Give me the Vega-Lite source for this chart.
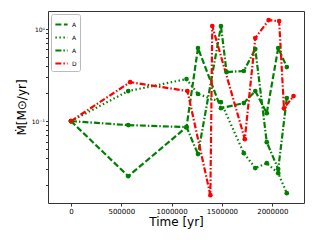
{
  "$schema": "https://vega.github.io/schema/vega-lite/v6.json",
  "autosize": {"type": "none"},
  "width": 256,
  "height": 192,
  "padding": {"left": 48, "top": 11, "right": 16, "bottom": 37},
  "config": {
    "view": {"stroke": "#333333", "strokeWidth": 1},
    "font": "DejaVu Sans",
    "axis": {"grid": false, "domain": false, "tickColor": "#333333", "labelColor": "#000000", "titleColor": "#000000", "labelFont": "DejaVu Sans", "titleFont": "DejaVu Sans"}
  },
  "data": {"values": [
    {"s": "A1", "t": 0, "v": 0.1},
    {"s": "A1", "t": 569000, "v": 0.0252},
    {"s": "A1", "t": 1148000, "v": 0.0861},
    {"s": "A1", "t": 1262000, "v": 0.622},
    {"s": "A1", "t": 1490000, "v": 0.138},
    {"s": "A1", "t": 1717000, "v": 0.157},
    {"s": "A1", "t": 1831000, "v": 0.212},
    {"s": "A1", "t": 1945000, "v": 0.122},
    {"s": "A1", "t": 2059000, "v": 0.622},
    {"s": "A1", "t": 2144000, "v": 0.386},
    {"s": "A2", "t": 0, "v": 0.1},
    {"s": "A2", "t": 569000, "v": 0.212},
    {"s": "A2", "t": 1148000, "v": 0.286},
    {"s": "A2", "t": 1262000, "v": 0.197},
    {"s": "A2", "t": 1490000, "v": 0.161},
    {"s": "A2", "t": 1717000, "v": 0.0449},
    {"s": "A2", "t": 1831000, "v": 0.0309},
    {"s": "A2", "t": 1945000, "v": 0.0349},
    {"s": "A2", "t": 2059000, "v": 0.0272},
    {"s": "A2", "t": 2144000, "v": 0.0165},
    {"s": "A3", "t": 0, "v": 0.1},
    {"s": "A3", "t": 569000, "v": 0.0905},
    {"s": "A3", "t": 1148000, "v": 0.0861},
    {"s": "A3", "t": 1262000, "v": 0.0438},
    {"s": "A3", "t": 1490000, "v": 1.078},
    {"s": "A3", "t": 1546000, "v": 0.341},
    {"s": "A3", "t": 1717000, "v": 0.35},
    {"s": "A3", "t": 1831000, "v": 0.606},
    {"s": "A3", "t": 1945000, "v": 0.0591},
    {"s": "A3", "t": 2059000, "v": 0.0301},
    {"s": "A3", "t": 2144000, "v": 0.178},
    {"s": "D", "t": 0, "v": 0.1},
    {"s": "D", "t": 588000, "v": 0.265},
    {"s": "D", "t": 1157000, "v": 0.212},
    {"s": "D", "t": 1385000, "v": 0.0157},
    {"s": "D", "t": 1404000, "v": 1.078},
    {"s": "D", "t": 1727000, "v": 0.0637},
    {"s": "D", "t": 1831000, "v": 0.798},
    {"s": "D", "t": 1964000, "v": 1.25},
    {"s": "D", "t": 2068000, "v": 1.22},
    {"s": "D", "t": 2116000, "v": 0.138},
    {"s": "D", "t": 2211000, "v": 0.187}
  ]},
  "mark": {"type": "line", "strokeWidth": 2.2, "point": {"size": 22, "filled": true}},
  "encoding": {
    "x": {"field": "t", "type": "quantitative", "scale": {"domain": [-228000, 2315000], "nice": false, "zero": false},
      "axis": {"title": "Time [yr]", "titleFontSize": 12, "titleFontWeight": "normal", "titlePadding": 2, "values": [0, 500000, 1000000, 1500000, 2000000], "format": "d", "labelFontSize": 7, "tickSize": 3, "labelPadding": 1}},
    "y": {"field": "v", "type": "quantitative", "scale": {"type": "log", "domain": [0.0129, 1.57], "nice": false},
      "axis": {"title": "Ṁ[M⊙/yr]", "titleFontSize": 12, "titleFontWeight": "normal", "titlePadding": 3,
        "values": [0.02, 0.03, 0.04, 0.05, 0.06, 0.07, 0.08, 0.09, 0.1, 0.2, 0.3, 0.4, 0.5, 0.6, 0.7, 0.8, 0.9, 1],
        "labelExpr": "datum.value == 1 ? '10⁰' : (abs(datum.value - 0.1) < 1e-9 ? '10⁻¹' : '')", "labelFontSize": 6, "tickSize": 2.5, "labelPadding": 1}},
    "color": {"field": "s", "type": "nominal", "scale": {"domain": ["A1", "A2", "A3", "D"], "range": ["#008000", "#008000", "#008000", "#ff0000"]},
      "legend": {"title": null, "orient": "top-left", "offset": 3, "labelExpr": "slice(datum.label, 0, 1)", "labelFontSize": 6, "symbolType": "stroke", "symbolSize": 150, "symbolStrokeWidth": 2.2, "rowPadding": 1, "padding": 3, "strokeColor": "#bbbbbb", "fillColor": "#ffffff", "labelOffset": 3, "cornerRadius": 2}},
    "strokeDash": {"field": "s", "type": "nominal", "scale": {"domain": ["A1", "A2", "A3", "D"], "range": [[6, 2.5], [1.5, 2.5], [6, 2, 1.5, 2], [6, 2, 1.5, 2]]}, "legend": null}
  }
}
